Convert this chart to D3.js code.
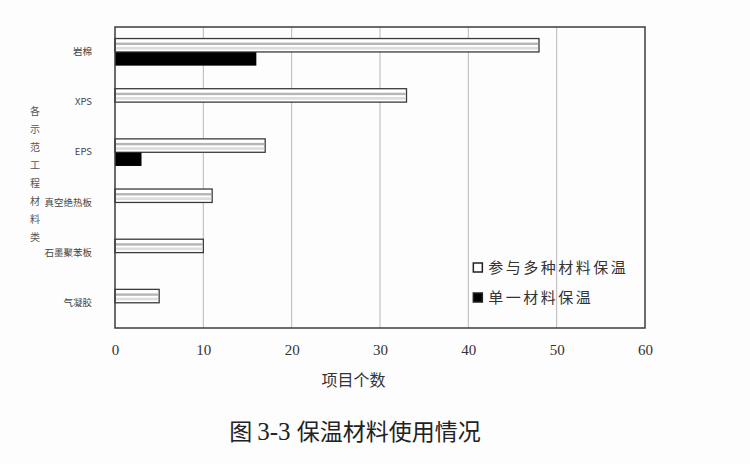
<!DOCTYPE html>
<html>
<head>
<meta charset="utf-8">
<script src="https://cdn.jsdelivr.net/npm/d3@7"></script>
<style>
  body { margin: 0; background: #fdfdfd; }
  svg { display: block; }
</style>
</head>
<body>
<div class="chart"></div>
<script>
var categories = ["岩棉", "XPS", "EPS", "真空绝热板", "石墨聚苯板", "气凝胶"];
var seriesNames = ["参与多种材料保温", "单一材料保温"];
var multiValues = [48, 33, 17, 11, 10, 5];
var singleValues = [16, 0, 3, 0, 0, 0];
var xTicks = [0, 10, 20, 30, 40, 50, 60];

var CJK = "'Noto Sans CJK SC', 'Noto Sans', sans-serif";
var SERIF = "'Liberation Serif', 'DejaVu Serif', serif";

var width = 750, height = 464;
var margin = { left: 115, right: 105, top: 27, bottom: 136 };

var svg = d3.select("div.chart").append("svg")
  .attr("width", width)
  .attr("height", height);

var x = d3.scaleLinear().domain([0, 60]).range([margin.left, width - margin.right]);
var y = d3.scaleBand().domain(categories)
  .range([margin.top, height - margin.bottom])
  .paddingInner(0.46).paddingOuter(0.23);
var ySub = d3.scaleBand().domain([0, 1]).range([0, y.bandwidth()]).paddingInner(0.02);

/* vertical grid lines */
svg.append("g")
  .selectAll("line")
  .data(xTicks.slice(1, -1))
  .join("line")
  .attr("x1", function (d) { return x(d); })
  .attr("x2", function (d) { return x(d); })
  .attr("y1", margin.top)
  .attr("y2", height - margin.bottom)
  .attr("stroke", "#b8b8b8")
  .attr("stroke-width", 1);

/* striped outline bars: 参与多种材料保温 */
var multi = svg.append("g").selectAll("g")
  .data(categories)
  .join("g")
  .attr("transform", function (d) { return "translate(0," + (y(d) + ySub(0)) + ")"; });

multi.append("rect")
  .attr("x", x(0))
  .attr("width", function (d, i) { return x(multiValues[i]) - x(0); })
  .attr("height", ySub.bandwidth())
  .attr("fill", "#ffffff")
  .attr("stroke", "#3a3a3a")
  .attr("stroke-width", 1.3);
multi.append("rect")
  .attr("x", x(0) + 1)
  .attr("y", ySub.bandwidth() * 0.3)
  .attr("width", function (d, i) { return Math.max(0, x(multiValues[i]) - x(0) - 2); })
  .attr("height", ySub.bandwidth() * 0.18)
  .attr("fill", "#b5b5b5");
multi.append("rect")
  .attr("x", x(0) + 1)
  .attr("y", ySub.bandwidth() * 0.62)
  .attr("width", function (d, i) { return Math.max(0, x(multiValues[i]) - x(0) - 2); })
  .attr("height", ySub.bandwidth() * 0.2)
  .attr("fill", "#dcdcdc");

/* solid bars: 单一材料保温 */
svg.append("g").selectAll("rect")
  .data(categories)
  .join("rect")
  .attr("x", x(0))
  .attr("y", function (d) { return y(d) + ySub(1); })
  .attr("width", function (d, i) { return x(singleValues[i]) - x(0); })
  .attr("height", ySub.bandwidth())
  .attr("fill", "#000000");

/* frame */
svg.append("rect")
  .attr("x", margin.left)
  .attr("y", margin.top)
  .attr("width", width - margin.left - margin.right)
  .attr("height", height - margin.top - margin.bottom)
  .attr("fill", "none")
  .attr("stroke", "#3c3c3c")
  .attr("stroke-width", 1.5);

/* x axis */
var xAxis = svg.append("g")
  .attr("transform", "translate(0," + (height - margin.bottom) + ")")
  .call(d3.axisBottom(x).tickValues(xTicks).tickSize(0).tickPadding(16));
xAxis.select(".domain").remove();
xAxis.selectAll("text")
  .attr("font-family", SERIF)
  .attr("font-size", 15)
  .attr("fill", "#333");

/* y axis */
var yAxis = svg.append("g")
  .attr("transform", "translate(" + margin.left + ",0)")
  .call(d3.axisLeft(y).tickSize(0).tickPadding(23));
yAxis.select(".domain").remove();
yAxis.selectAll("text")
  .attr("font-family", CJK)
  .attr("font-size", 9.5)
  .attr("fill", "#444")
  .attr("dy", "0.32em");

/* axis titles */
svg.append("text")
  .attr("x", x(27))
  .attr("y", 386)
  .attr("text-anchor", "middle")
  .attr("font-family", CJK)
  .attr("font-size", 16)
  .attr("fill", "#333")
  .text("项目个数");

svg.append("text")
  .attr("transform", "translate(35,178)")
  .attr("text-anchor", "middle")
  .attr("font-family", CJK)
  .attr("font-size", 10)
  .attr("fill", "#555")
  .attr("writing-mode", "tb")
  .attr("letter-spacing", 8)
  .text("各示范工程材料类");

/* legend */
var legend = svg.append("g")
  .attr("transform", "translate(" + (x(40) + 5) + ",268)")
  .selectAll("g")
  .data(seriesNames)
  .join("g")
  .attr("transform", function (d, i) { return "translate(0," + (i * 30) + ")"; });
legend.append("rect")
  .attr("x", 0)
  .attr("y", -5)
  .attr("width", 9)
  .attr("height", 9)
  .attr("fill", function (d, i) { return i === 0 ? "#fff" : "#000"; })
  .attr("stroke", "#222")
  .attr("stroke-width", 1.5);
legend.append("text")
  .attr("x", 15)
  .attr("y", 0)
  .attr("dy", "0.35em")
  .attr("font-family", CJK)
  .attr("font-size", 15)
  .attr("letter-spacing", 2.5)
  .attr("fill", "#333")
  .text(function (d) { return d; });

/* caption */
var caption = svg.append("text")
  .attr("x", 355)
  .attr("y", 440)
  .attr("text-anchor", "middle")
  .attr("font-size", 23)
  .attr("fill", "#222");
caption.append("tspan").attr("font-family", CJK).text("图 ");
caption.append("tspan").attr("font-family", SERIF).attr("font-size", 25).text("3-3 ");
caption.append("tspan").attr("font-family", CJK).text("保温材料使用情况");
</script>
</body>
</html>
